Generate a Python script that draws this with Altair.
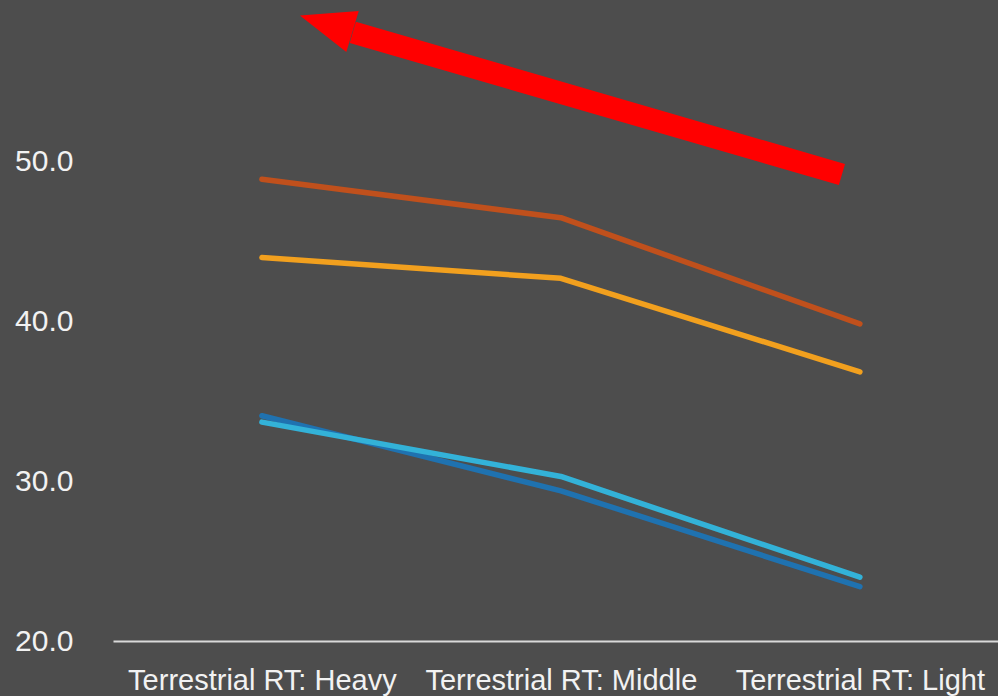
import json
import altair as alt
import pandas as pd

# ---------------- data ----------------
categories = ["Terrestrial RT: Heavy", "Terrestrial RT: Middle", "Terrestrial RT: Light"]
series_names = ["Series 1", "Series 2", "Series 3", "Series 4"]
series_1 = [48.9, 46.5, 39.85]
series_2 = [44.0, 42.7, 36.85]
series_3 = [34.1, 29.4, 23.4]
series_4 = [33.7, 30.3, 24.0]
series_colors = ["#C0501C", "#F2A01E", "#1F72B0", "#33B2D8"]
y_ticks = [20, 30, 40, 50]

# red arrow annotation (category-index units, value units)
arrow_x = [1.94, 0.304]      # tail, head base
arrow_y = [49.2, 58.1]
arrow_tip_x = [0.127]
arrow_tip_y = [59.15]

# ---------------- tables ----------------
rows = []
for si, (name, vals) in enumerate(zip(series_names, [series_1, series_2, series_3, series_4])):
    for i, (cat, v) in enumerate(zip(categories, vals)):
        rows.append({"series": name, "order": si, "idx": i, "category": cat, "value": v})
df = pd.DataFrame(rows)
shaft_df = pd.DataFrame({"idx": arrow_x, "value": arrow_y, "k": [0, 1]})
tip_df = pd.DataFrame({"idx": arrow_tip_x, "value": arrow_tip_y})

label_expr = "[" + ",".join(json.dumps(c) for c in categories) + "][datum.value]"

x_scale = alt.Scale(domain=[-0.498, 2.462], nice=False, zero=False)
y_scale = alt.Scale(domain=[20, 60], nice=False, zero=False)

x_enc = alt.X(
    "idx:Q",
    scale=x_scale,
    axis=alt.Axis(
        values=[0, 1, 2],
        labelExpr=label_expr,
        title=None,
        ticks=False,
        grid=False,
        domain=True,
        domainColor="#D9D9D9",
        domainWidth=2,
        labelPadding=25,
        labelLimit=0,
        labelOverlap=False,
        labelFlush=False,
        labelBound=False,
    ),
)
y_enc = alt.Y(
    "value:Q",
    scale=y_scale,
    axis=alt.Axis(
        values=y_ticks,
        format=".1f",
        title=None,
        ticks=False,
        grid=False,
        domain=False,
        labelPadding=40,
        labelFontSize=30,
        labelOverlap=False,
    ),
)

lines = alt.Chart(df).mark_line(strokeWidth=5.5, strokeCap="round", strokeJoin="round").encode(
    x=x_enc,
    y=y_enc,
    color=alt.Color("series:N", scale=alt.Scale(domain=series_names, range=series_colors), legend=None),
    detail="series:N",
)

shaft = alt.Chart(shaft_df).mark_line(color="#FF0000", strokeWidth=22, strokeCap="butt").encode(
    x=x_enc, y=y_enc, order="k:Q"
)

head_path = "M 0 0 L 2 -0.78 L 2 0.78 Z"
head = alt.Chart(tip_df).mark_point(
    shape=head_path, size=3025, angle=16.8, filled=True, color="#FF0000", opacity=1, strokeWidth=0
).encode(x=x_enc, y=y_enc)

chart = (
    alt.layer(lines, shaft, head)
    .properties(
        width=885,
        height=639,
        autosize=alt.AutoSizeParams(type="none"),
        padding={"left": 113, "top": 2, "right": 0, "bottom": 55},
        background="#4D4D4D",
    )
    .configure_view(stroke=None)
    .configure_axis(
        labelFont="Liberation Sans",
        labelFontSize=29,
        labelColor="#F2F2F2",
    )
)

chart.save("out.html", embed_options={"renderer": "svg", "actions": False})
